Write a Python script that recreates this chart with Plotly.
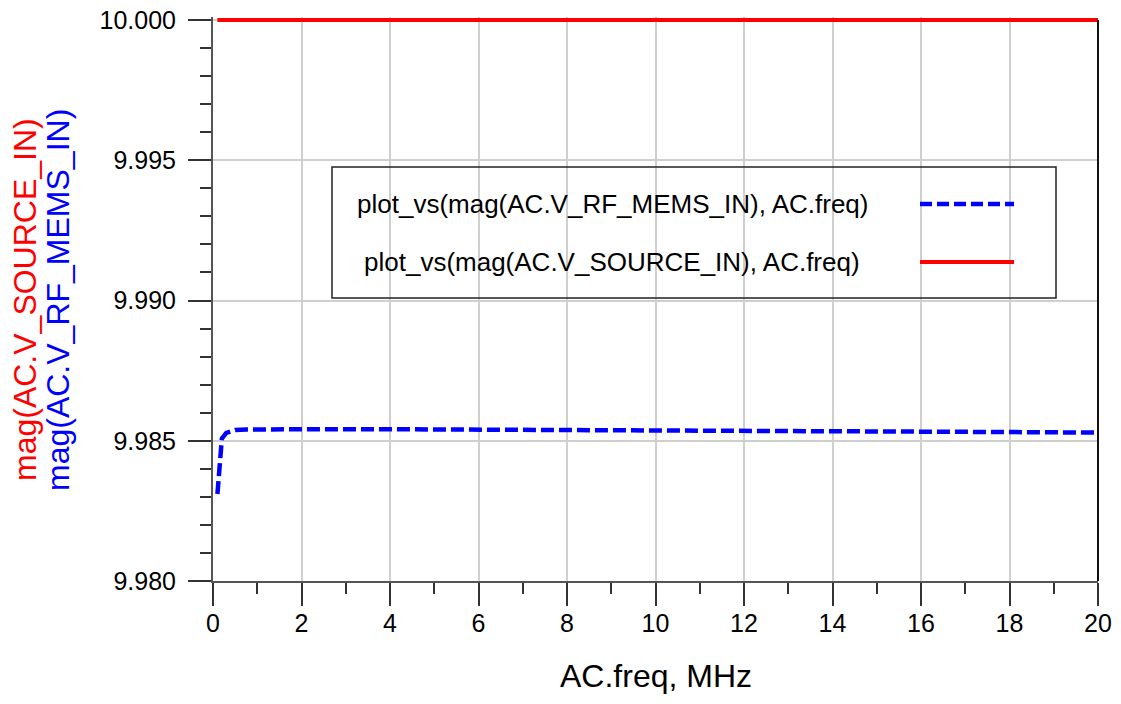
import plotly.graph_objects as go

# ---------------- data ----------------
freq_mems = [0.1, 0.2, 0.3, 0.4, 0.5, 0.75, 1, 2, 4, 6, 8, 10, 12, 14, 16, 18, 20]
mag_mems = [9.98310, 9.98508, 9.98528, 9.98535, 9.98538, 9.98540, 9.98541,
            9.98541, 9.98541, 9.98540, 9.98540, 9.98539, 9.98537, 9.98535,
            9.98533, 9.98531, 9.98529]
freq_source = [0.1, 1, 2, 4, 6, 8, 10, 12, 14, 16, 18, 20]
mag_source = [10.0] * len(freq_source)

name_mems = "plot_vs(mag(AC.V_RF_MEMS_IN), AC.freq)"
name_source = "plot_vs(mag(AC.V_SOURCE_IN), AC.freq)"
ytitle_source = "mag(AC.V_SOURCE_IN)"
ytitle_mems = "mag(AC.V_RF_MEMS_IN)"
xtitle = "AC.freq, MHz"

x_ticks = [0, 2, 4, 6, 8, 10, 12, 14, 16, 18, 20]
y_ticks = [9.980, 9.985, 9.990, 9.995, 10.000]
y_ticklabels = ["9.980", "9.985", "9.990", "9.995", "10.000"]

# ---------------- layout geometry (page pixel coordinates) ----------------
W, H = 1121, 704
PL, PR, PT, PB = 213, 1098, 17, 581   # plot area in page pixels
L, T, R, B = PL, PT, W - PR, H - PB
PW = PR - PL
PH = PB - PT
ymin = 9.98
ymax = 9.98 + 0.02 * PH / (PH - 3)  # 10.000 sits 3px below plot top


def px(xp):
    return (xp - PL) / PW


def py(yp):
    return (PB - yp) / PH


FONT = "Liberation Sans, Arial, sans-serif"
BLUE = "#0000ff"
RED = "#ff0000"
DASH = "13px,5px"

fig = go.Figure()
fig.add_trace(go.Scatter(x=freq_mems, y=mag_mems, mode="lines", name=name_mems,
                         line=dict(color=BLUE, width=4.5, dash=DASH)))
fig.add_trace(go.Scatter(x=freq_source, y=mag_source, mode="lines", name=name_source,
                         line=dict(color=RED, width=4)))

fig.update_layout(
    width=W, height=H,
    margin=dict(l=L, r=R, t=T, b=B, pad=0, autoexpand=False),
    paper_bgcolor="white", plot_bgcolor="white",
    showlegend=False,
    font=dict(family=FONT, color="black"),
)

fig.update_xaxes(
    range=[0, 20], tickvals=x_ticks, ticktext=[str(v) for v in x_ticks],
    showgrid=True, gridcolor="#cfcfcf", gridwidth=1.5,
    showline=True, linecolor="#555555", linewidth=2,
    ticks="outside", ticklen=23, tickwidth=2, tickcolor="#333333",
    tickfont=dict(size=25, family=FONT, color="black"),
    ticklabelstandoff=-4, ticklabeloverflow="allow",
    minor=dict(dtick=1, tick0=0, ticks="outside", ticklen=11, tickwidth=2,
               tickcolor="#333333", showgrid=False),
    zeroline=False, automargin=False,
)
fig.update_yaxes(
    range=[ymin, ymax], tickvals=y_ticks, ticktext=y_ticklabels,
    showgrid=True, gridcolor="#cfcfcf", gridwidth=1.5,
    showline=True, linecolor="#555555", linewidth=2,
    ticks="outside", ticklen=23, tickwidth=2, tickcolor="#333333",
    tickfont=dict(size=25, family=FONT, color="black"),
    ticklabelstandoff=7, ticklabeloverflow="allow",
    minor=dict(dtick=0.001, tick0=9.98, ticks="outside", ticklen=11, tickwidth=2,
               tickcolor="#333333", showgrid=False),
    zeroline=False, automargin=False,
)

shapes = []
# right border
shapes.append(dict(type="line", xref="paper", yref="paper", x0=1, x1=1,
                   y0=0, y1=py(20), line=dict(color="#111111", width=2)))
# legend box
shapes.append(dict(type="rect", xref="paper", yref="paper",
                   x0=px(332), x1=px(1056), y0=py(298), y1=py(167),
                   line=dict(color="#222222", width=1.5), fillcolor="rgba(0,0,0,0)"))
# legend samples
shapes.append(dict(type="line", xref="paper", yref="paper",
                   x0=px(920), x1=px(1014), y0=py(204), y1=py(204),
                   line=dict(color=BLUE, width=4.5, dash="12px,5px")))
shapes.append(dict(type="line", xref="paper", yref="paper",
                   x0=px(920), x1=px(1014), y0=py(262), y1=py(262),
                   line=dict(color=RED, width=4)))

annotations = [
    dict(text=name_mems, xref="paper", yref="paper", x=px(612), y=py(204),
         xanchor="center", yanchor="middle", showarrow=False,
         font=dict(size=26, family=FONT, color="black")),
    dict(text=name_source, xref="paper", yref="paper", x=px(612), y=py(262),
         xanchor="center", yanchor="middle", showarrow=False,
         font=dict(size=26, family=FONT, color="black")),
    dict(text=xtitle, xref="paper", yref="paper", x=0.5, y=py(676),
         xanchor="center", yanchor="middle", showarrow=False,
         font=dict(size=32, family=FONT, color="black")),
    dict(text=ytitle_source, xref="paper", yref="paper", x=px(25), y=py(300),
         xanchor="center", yanchor="middle", showarrow=False, textangle=-90,
         font=dict(size=32, family=FONT, color=RED)),
    dict(text=ytitle_mems, xref="paper", yref="paper", x=px(58), y=py(300),
         xanchor="center", yanchor="middle", showarrow=False, textangle=-90,
         font=dict(size=32, family=FONT, color=BLUE)),
]
fig.update_layout(shapes=shapes, annotations=annotations)

fig.write_html("out.html",
               config={"displayModeBar": False},
               post_script="document.body.style.margin='0';document.body.style.overflow='hidden';")
